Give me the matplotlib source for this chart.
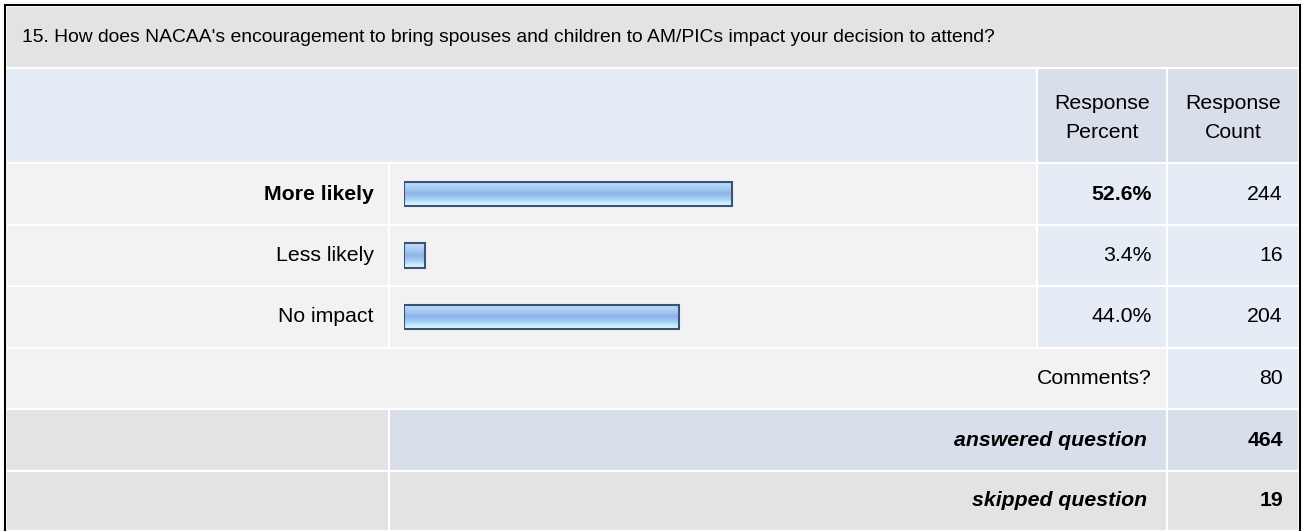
import numpy as np
import matplotlib.pyplot as plt
from matplotlib.patches import Rectangle
from matplotlib.colors import LinearSegmentedColormap

plt.rcParams['font.family'] = ['Liberation Sans', 'DejaVu Sans']

title = "15. How does NACAA's encouragement to bring spouses and children to AM/PICs impact your decision to attend?"
answers = ['More likely', 'Less likely', 'No impact']
percents = [52.6, 3.4, 44.0]
counts = [244, 16, 204]
comments_count = 80
answered = 464
skipped = 19

W, H = 1302, 531
fig = plt.figure(figsize=(W / 100, H / 100), dpi=100)
ax = fig.add_axes([0, 0, 1, 1])
ax.set_xlim(0, W)
ax.set_ylim(H, 0)
ax.axis('off')

grey = '#e3e3e3'
light = '#f2f2f2'
blue_l = '#e5ecf5'
blue_d = '#d8dfea'

# column / row edges (pixels)
x0, xl, xp, xc, x1 = 6, 389, 1037, 1167, 1299
rows = [6, 68, 163, 225, 286, 348, 409, 471, 531]


def cell(xa, xb, ya, yb, color):
    ax.add_patch(Rectangle((xa, ya), xb - xa, yb - ya, facecolor=color,
                           edgecolor='white', linewidth=1.5))


cell(x0, x1, rows[0], rows[1], grey)
cell(x0, xp, rows[1], rows[2], blue_l)
cell(xp, xc, rows[1], rows[2], blue_d)
cell(xc, x1, rows[1], rows[2], blue_d)
for i in range(3):
    cell(x0, xl, rows[2 + i], rows[3 + i], light)
    cell(xl, xp, rows[2 + i], rows[3 + i], light)
    cell(xp, xc, rows[2 + i], rows[3 + i], blue_l)
    cell(xc, x1, rows[2 + i], rows[3 + i], blue_l)
cell(x0, xc, rows[5], rows[6], light)
cell(xc, x1, rows[5], rows[6], blue_l)
cell(x0, xl, rows[6], rows[7], grey)
cell(xl, xc, rows[6], rows[7], blue_d)
cell(xc, x1, rows[6], rows[7], blue_d)
cell(x0, xl, rows[7], rows[8], grey)
cell(xl, xc, rows[7], rows[8], grey)
cell(xc, x1, rows[7], rows[8], grey)

# outer border
ax.plot([5, 5, 1300, 1300], [H, 5, 5, H], color='black', linewidth=1.5,
        solid_joinstyle='miter')

fs = 15.3
ax.text(22, 37, title, fontsize=13.9, va='center', ha='left')
ax.text((xp + xc) / 2, 118, 'Response\nPercent', fontsize=fs, ha='center',
        va='center', linespacing=1.68)
ax.text((xc + x1) / 2, 118, 'Response\nCount', fontsize=fs, ha='center',
        va='center', linespacing=1.68)

for i, (a, p, c) in enumerate(zip(answers, percents, counts)):
    yc = (rows[2 + i] + rows[3 + i]) / 2
    wt = 'bold' if p == max(percents) else 'normal'
    ax.text(374, yc, a, fontsize=fs, ha='right', va='center', fontweight=wt)
    ax.text(1152, yc, f'{p:.1f}%', fontsize=fs, ha='right', va='center',
            fontweight=wt)
    ax.text(1283, yc, str(c), fontsize=fs, ha='right', va='center')

yc = (rows[5] + rows[6]) / 2
ax.text(1152, yc, 'Comments?', fontsize=fs, ha='right', va='center')
ax.text(1283, yc, str(comments_count), fontsize=fs, ha='right', va='center')
yc = (rows[6] + rows[7]) / 2
ax.text(1147, yc, 'answered question', fontsize=fs, ha='right', va='center',
        fontweight='bold', fontstyle='italic')
ax.text(1283, yc, str(answered), fontsize=fs, ha='right', va='center',
        fontweight='bold')
yc = (rows[7] + rows[8]) / 2
ax.text(1147, yc, 'skipped question', fontsize=fs, ha='right', va='center',
        fontweight='bold', fontstyle='italic')
ax.text(1283, yc, str(skipped), fontsize=fs, ha='right', va='center',
        fontweight='bold')

# bar area: 100% spans 624 px starting at x=404
bax = fig.add_axes([404 / W, (H - rows[5]) / H, 624 / W, (rows[5] - rows[2]) / H])
bax.set_xlim(0, 100)
bax.set_ylim(2.5, -0.5)
bax.axis('off')
bax.patch.set_alpha(0)

grad = LinearSegmentedColormap.from_list('bar', [
    (0.0, '#c2defb'), (0.3, '#a6c9f3'), (0.5, '#8cb4e8'),
    (0.72, '#a9d0f5'), (0.9, '#cdf4ff'), (1.0, '#d8fbff')])
bh = 0.39
ypos = np.arange(len(answers))
bars = bax.barh(ypos, percents, height=bh, color='none',
                edgecolor='#3d5272', linewidth=1.5, zorder=3)
g = np.linspace(0, 1, 64).reshape(-1, 1)
for b, y, p in zip(bars, ypos, percents):
    im = bax.imshow(g, cmap=grad, aspect='auto', zorder=2,
                    extent=[0, p, y + bh / 2, y - bh / 2], origin='upper')
    im.set_clip_path(b)
bax.set_xlim(0, 100)
bax.set_ylim(2.5, -0.5)

fig.savefig('out.png', dpi=100)
